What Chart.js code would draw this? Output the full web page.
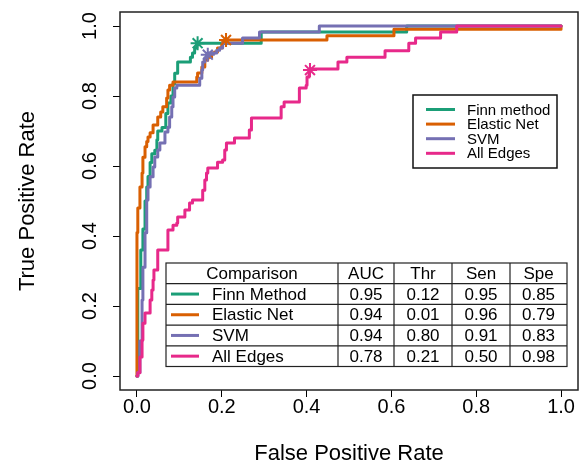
<!DOCTYPE html>
<html><head><meta charset="utf-8">
<script src="https://cdn.jsdelivr.net/npm/chart.js@4"></script>
<style>html,body{margin:0;padding:0;background:#fff}#wrap{width:587px;height:468px;position:relative}</style>
</head><body><div id="wrap"><canvas id="c"></canvas></div>
<script>
// ---------- data ----------
const xTickValues = [0, 0.2, 0.4, 0.6, 0.8, 1.0];
const xTickLabels = ["0.0", "0.2", "0.4", "0.6", "0.8", "1.0"];
const yTickValues = [0, 0.2, 0.4, 0.6, 0.8, 1.0];
const yTickLabels = ["0.0", "0.2", "0.4", "0.6", "0.8", "1.0"];

const seriesNames = ["Finn method", "Elastic Net", "SVM", "All Edges"];
const seriesColors = ["#1B9E77", "#D95F02", "#7570B3", "#E7298A"];

const finnFpr = [0, 0.002, 0.009, 0.014, 0.019, 0.023, 0.026, 0.031, 0.035, 0.042, 0.047, 0.049, 0.059, 0.068, 0.073, 0.080, 0.085, 0.089, 0.096, 0.126, 0.131, 0.136, 0.141, 0.143, 0.293, 0.636, 1.0];
const finnTpr = [0, 0.25, 0.36, 0.42, 0.50, 0.54, 0.57, 0.61, 0.635, 0.645, 0.675, 0.70, 0.71, 0.75, 0.78, 0.80, 0.835, 0.865, 0.897, 0.911, 0.923, 0.937, 0.946, 0.951, 0.983, 1.0, 1.0];

const elasFpr = [0, 0, 0.002, 0.007, 0.012, 0.014, 0.019, 0.023, 0.026, 0.031, 0.038, 0.049, 0.056, 0.061, 0.070, 0.073, 0.077, 0.085, 0.141, 0.143, 0.153, 0.160, 0.167, 0.176, 0.183, 0.190, 0.200, 0.202, 0.207, 0.448, 0.606, 1.0];
const elasTpr = [0, 0.41, 0.48, 0.54, 0.58, 0.625, 0.655, 0.67, 0.683, 0.695, 0.717, 0.74, 0.754, 0.769, 0.794, 0.817, 0.831, 0.84, 0.854, 0.866, 0.883, 0.903, 0.911, 0.923, 0.926, 0.937, 0.946, 0.954, 0.96, 0.972, 0.991, 1.0];

const svmFpr = [0, 0.002, 0.007, 0.012, 0.014, 0.019, 0.023, 0.026, 0.031, 0.038, 0.042, 0.049, 0.054, 0.066, 0.073, 0.077, 0.082, 0.085, 0.089, 0.094, 0.148, 0.153, 0.155, 0.160, 0.164, 0.167, 0.188, 0.195, 0.202, 0.249, 0.289, 0.430, 1.0];
const svmTpr = [0, 0.01, 0.10, 0.217, 0.311, 0.409, 0.503, 0.54, 0.569, 0.597, 0.626, 0.646, 0.666, 0.697, 0.711, 0.74, 0.769, 0.797, 0.823, 0.831, 0.851, 0.874, 0.897, 0.909, 0.917, 0.923, 0.931, 0.937, 0.951, 0.966, 0.983, 1.0, 1.0];

const allFpr = [0, 0.002, 0.007, 0.012, 0.014, 0.019, 0.031, 0.035, 0.038, 0.040, 0.049, 0.073, 0.085, 0.094, 0.096, 0.113, 0.124, 0.131, 0.155, 0.160, 0.164, 0.167, 0.190, 0.202, 0.207, 0.211, 0.230, 0.265, 0.270, 0.340, 0.347, 0.383, 0.399, 0.401, 0.406, 0.408, 0.474, 0.495, 0.585, 0.641, 0.657, 0.716, 0.754, 1.0];
const allTpr = [0, 0.009, 0.054, 0.103, 0.151, 0.18, 0.217, 0.246, 0.274, 0.303, 0.36, 0.417, 0.431, 0.437, 0.454, 0.474, 0.494, 0.503, 0.531, 0.56, 0.58, 0.594, 0.611, 0.617, 0.646, 0.666, 0.68, 0.703, 0.737, 0.769, 0.783, 0.823, 0.831, 0.854, 0.869, 0.877, 0.897, 0.911, 0.929, 0.951, 0.966, 0.983, 1.0, 1.0];

// optimal threshold points (asterisks)
const markFpr = [0.143, 0.21, 0.167, 0.408];
const markTpr = [0.951, 0.96, 0.918, 0.874];

// table
const tableHeader = ["Comparison", "AUC", "Thr", "Sen", "Spe"];
const tableMethods = ["Finn Method", "Elastic Net", "SVM", "All Edges"];
const tableAUC = ["0.95", "0.94", "0.94", "0.78"];
const tableThr = ["0.12", "0.01", "0.80", "0.21"];
const tableSen = ["0.95", "0.96", "0.91", "0.50"];
const tableSpe = ["0.85", "0.79", "0.83", "0.98"];

// ---------- build ----------
const FONT = "'Liberation Sans', Arial, Helvetica, sans-serif";
const curves = [[finnFpr, finnTpr], [elasFpr, elasTpr], [svmFpr, svmTpr], [allFpr, allTpr]];
const toPts = (xs, ys) => xs.map((x, i) => ({x: x, y: ys[i]}));

const datasets = curves.map((c, i) => ({
  label: seriesNames[i],
  data: toPts(c[0], c[1]),
  showLine: true,
  stepped: true,
  borderColor: seriesColors[i],
  backgroundColor: seriesColors[i],
  borderWidth: 3,
  borderCapStyle: 'round',
  borderJoinStyle: 'round',
  pointRadius: 0,
  fill: false,
  order: 4 - i
}));
markFpr.forEach((x, i) => {
  datasets.push({
    label: seriesNames[i] + ' cutoff',
    data: [{x: x, y: markTpr[i]}],
    showLine: false,
    pointStyle: 'star',
    pointRadius: 7,
    pointBorderWidth: 2,
    borderColor: seriesColors[i],
    backgroundColor: seriesColors[i],
    order: 0
  });
});

const frameAndExtras = {
  id: 'frameAndExtras',
  afterDatasetsDraw(chart) {
    const ctx = chart.ctx;
    const a = chart.chartArea;
    ctx.save();
    // plot box
    ctx.strokeStyle = '#222';
    ctx.lineWidth = 1.5;
    ctx.strokeRect(a.left, a.top, a.right - a.left, a.bottom - a.top);

    // legend
    const lx = 413, ly = 95, lw = 144, lh = 73;
    ctx.fillStyle = '#fff';
    ctx.fillRect(lx, ly, lw, lh);
    ctx.strokeStyle = '#111';
    ctx.lineWidth = 1.5;
    ctx.strokeRect(lx, ly, lw, lh);
    ctx.font = '15px ' + FONT;
    ctx.textBaseline = 'middle';
    ctx.textAlign = 'left';
    seriesNames.forEach((n, i) => {
      const y = 109.5 + i * 14.6;
      ctx.strokeStyle = seriesColors[i];
      ctx.lineWidth = 3;
      ctx.beginPath(); ctx.moveTo(426, y); ctx.lineTo(455, y); ctx.stroke();
      ctx.fillStyle = '#000';
      ctx.fillText(n, 467, y + 1);
    });

    // table
    const tx = 166, ty = 263, rh = 20.7;
    const cols = [166, 338, 394, 452, 510, 567];
    const nRows = 5;
    ctx.fillStyle = '#fff';
    ctx.fillRect(tx, ty, cols[5] - tx, rh * nRows);
    ctx.strokeStyle = '#222';
    ctx.lineWidth = 1.2;
    ctx.strokeRect(tx, ty, cols[5] - tx, rh * nRows);
    for (let r = 1; r < nRows; r++) {
      ctx.beginPath(); ctx.moveTo(tx, ty + r * rh); ctx.lineTo(cols[5], ty + r * rh); ctx.stroke();
    }
    for (let c = 1; c < 5; c++) {
      ctx.beginPath(); ctx.moveTo(cols[c], ty); ctx.lineTo(cols[c], ty + rh * nRows); ctx.stroke();
    }
    ctx.font = '17px ' + FONT;
    ctx.fillStyle = '#000';
    ctx.textAlign = 'center';
    tableHeader.forEach((h, c) => {
      ctx.fillText(h, (cols[c] + cols[c + 1]) / 2, ty + rh / 2 + 1);
    });
    const colsData = [tableAUC, tableThr, tableSen, tableSpe];
    tableMethods.forEach((m, r) => {
      const cy = ty + (r + 1.5) * rh + 1;
      ctx.strokeStyle = seriesColors[r];
      ctx.lineWidth = 3;
      ctx.beginPath(); ctx.moveTo(171, cy - 1); ctx.lineTo(199, cy - 1); ctx.stroke();
      ctx.fillStyle = '#000';
      ctx.textAlign = 'left';
      ctx.fillText(m, 212, cy);
      ctx.textAlign = 'center';
      colsData.forEach((arr, c) => {
        ctx.fillText(arr[r], (cols[c + 1] + cols[c + 2]) / 2, cy);
      });
    });
    ctx.restore();
  }
};

new Chart(document.getElementById('c'), {
  type: 'scatter',
  data: {datasets: datasets},
  plugins: [frameAndExtras],
  options: {
    responsive: true,
    maintainAspectRatio: false,
    animation: false,
    layout: {padding: {top: 12, right: 7, left: 0, bottom: 0}},
    plugins: {legend: {display: false}, tooltip: {enabled: false}},
    scales: {
      x: {
        type: 'linear', min: -0.04, max: 1.04,
        afterBuildTicks: s => { s.ticks = xTickValues.map(v => ({value: v})); },
        ticks: {
          autoSkip: false, maxRotation: 0, padding: -2, color: '#000',
          font: {size: 20, family: FONT},
          callback: (v, i) => xTickLabels[i]
        },
        grid: {drawOnChartArea: false, drawTicks: true, tickLength: 7, color: '#000', lineWidth: 1},
        border: {display: false},
        title: {display: true, text: 'False Positive Rate', color: '#000', font: {size: 22, family: FONT}, padding: {top: 0, bottom: 1}},
        afterFit: s => { s.height = 78; s.paddingLeft = 0; s.paddingRight = 0; }
      },
      y: {
        type: 'linear', min: -0.04, max: 1.04,
        afterBuildTicks: s => { s.ticks = yTickValues.map(v => ({value: v})); },
        ticks: {
          autoSkip: false, minRotation: 90, maxRotation: 90, crossAlign: 'center', padding: 9, color: '#000',
          font: {size: 20, family: FONT},
          callback: (v, i) => yTickLabels[i]
        },
        grid: {drawOnChartArea: false, drawTicks: true, tickLength: 7, color: '#000', lineWidth: 1},
        border: {display: false},
        title: {display: true, text: 'True Positive Rate', color: '#000', font: {size: 22, family: FONT}, padding: {top: 15, bottom: 0}},
        afterFit: s => { s.width = 120; s.paddingTop = 0; s.paddingBottom = 0; }
      }
    }
  }
});
</script></body></html>
